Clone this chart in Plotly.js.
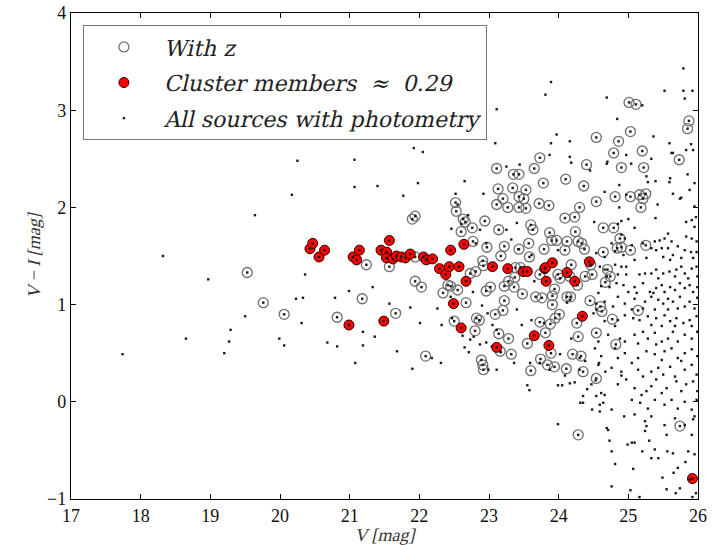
<!DOCTYPE html>
<html>
<head>
<meta charset="utf-8">
<script src="https://cdn.plot.ly/plotly-3.0.1.min.js"></script>
<style>html,body{margin:0;padding:0;background:#fff;}#chart{width:714px;height:545px;}</style>
</head>
<body>
<div id="chart"></div>
<script>
// ---- Cluster members (red) ----
const memberV = [20.43,20.47,20.56,20.64,20.99,21.05,21.10,21.14,21.45,21.49,
  21.53,21.53,21.57,21.62,21.67,21.74,21.80,21.87,22.06,22.10,
  22.19,22.29,22.38,22.43,22.45,22.49,22.57,22.60,22.64,22.67,
  23.05,23.11,23.27,23.49,23.55,23.65,23.80,23.81,23.82,23.86,
  23.91,24.12,24.23,24.34,24.44,25.92];
const memberVI = [1.575,1.63,1.49,1.56,0.79,1.49,1.46,1.56,1.56,0.83,
  1.54,1.48,1.66,1.47,1.50,1.49,1.48,1.52,1.49,1.46,
  1.47,1.37,1.31,1.39,1.56,1.01,1.39,0.76,1.62,1.24,
  1.39,0.56,1.37,1.34,1.34,0.68,1.37,1.38,1.24,0.58,
  1.43,1.33,1.24,0.88,1.44,-0.79];

// ---- Sources with redshift (open circles) ----
const withzV = [19.53,19.76,20.06,20.82,21.18,21.24,21.57,21.66,21.90,21.94,
  21.94,21.94,22.03,22.09,22.34,22.41,22.45,22.50,22.52,22.53,
  22.55,22.60,22.63,22.66,22.67,22.73,22.76,22.77,22.80,22.81,
  22.82,22.86,22.91,22.92,22.89,22.91,22.92,22.94,22.96,22.97,
  23.02,23.09,23.11,23.11,23.13,23.14,23.14,23.16,23.17,23.20,
  23.20,23.22,23.22,23.22,23.27,23.28,23.28,23.32,23.34,23.35,
  23.36,23.37,23.38,23.43,23.43,23.43,23.43,23.45,23.48,23.50,
  23.53,23.53,23.55,23.57,23.58,23.60,23.60,23.63,23.65,23.67,
  23.72,23.73,23.73,23.73,23.74,23.76,23.78,23.79,23.81,23.84,
  23.86,23.87,23.88,23.89,23.90,23.91,23.91,23.94,23.94,23.95,
  23.97,23.99,24.01,24.02,24.09,24.10,24.12,24.12,24.09,24.11,
  24.16,24.17,24.18,24.20,24.23,24.24,24.26,24.27,24.28,24.28,
  24.28,24.30,24.32,24.33,24.35,24.36,24.37,24.38,24.40,24.45,
  24.46,24.48,24.54,24.54,24.54,24.54,24.60,24.62,24.64,24.64,
  24.67,24.70,24.74,24.77,24.79,24.79,24.81,24.82,24.84,24.86,
  24.88,24.90,24.90,25.01,25.03,25.03,25.03,25.11,25.14,25.16,
  25.18,25.20,25.21,25.22,25.25,25.25,25.73,25.74,25.85,25.87];
const withzVI = [1.33,1.02,0.90,0.87,1.06,1.41,1.39,0.91,1.88,1.91,
  1.49,1.24,1.18,0.47,1.12,1.20,1.19,0.83,2.05,1.96,
  1.15,1.75,1.88,1.85,1.02,1.32,1.79,1.65,0.73,1.34,
  0.86,0.84,1.45,1.40,0.43,0.38,0.33,1.86,1.14,1.59,
  1.18,0.90,2.40,2.03,2.19,0.70,1.77,0.52,1.50,2.09,
  0.94,1.60,1.04,1.19,2.00,0.65,1.24,0.49,2.20,2.34,
  1.18,1.28,1.38,2.34,2.11,2.00,1.57,1.38,1.11,2.09,
  2.18,1.99,0.60,1.63,1.49,1.82,0.32,1.77,2.40,1.08,
  2.04,2.51,0.82,1.31,0.44,1.07,2.25,1.57,0.71,0.38,
  2.02,1.74,0.80,0.50,1.66,1.09,1.00,0.36,1.16,0.86,
  1.66,1.31,0.90,1.27,1.89,2.29,1.08,1.65,1.56,0.34,
  1.29,1.08,1.41,0.49,1.90,1.75,0.81,1.20,1.65,0.67,
  -0.34,2.00,0.47,1.63,0.31,2.22,1.57,1.29,2.44,1.04,
  1.41,1.31,2.72,2.06,0.71,0.24,0.98,0.93,1.54,1.79,
  1.23,1.36,1.29,0.85,2.56,1.79,2.11,0.59,1.58,2.68,
  1.68,2.41,1.59,3.08,2.78,2.11,1.56,3.06,0.94,2.13,
  2.00,2.58,2.09,2.41,2.14,1.61,2.49,-0.25,2.81,2.89];

// ---- Other sources with photometry (dots), bright / sparse part ----
const fieldV_sparse = [17.74,18.32,18.65,18.97,19.20,19.27,19.29,19.50,19.64,19.99,
  20.06,20.17,20.23,20.25,20.31,20.33,20.36,20.68,20.79,20.82,
  20.99,21.07,21.07,21.08,21.19,21.19,21.33,21.36,21.40,21.57,
  21.68,21.77,21.87,21.90,21.92,21.98,22.05,22.01,22.18,22.26,
  22.31,22.32,22.45,22.47,22.52,22.55,22.60,22.62,22.65,22.65,
  22.71,22.78,22.81,22.90,22.96,22.98,23.05,23.09,23.11,23.11,
  23.17,23.36,23.40,23.42,23.55,23.58,23.65,23.79,23.81,23.89,
  23.89,23.97,23.99,24.02,24.05,24.09,24.12,24.16,24.16,24.18,
  24.23,24.31,24.35,24.38,24.41,24.45,24.48,24.53,24.58,24.61,
  24.64,24.67,24.69,24.70,24.73,24.76,24.81,24.84,24.87,24.90,
  24.94,24.99,25.03,25.07,25.16,25.20,25.20,25.26,25.30,25.33,
  25.36,25.39,25.43,25.49,25.52,25.55,25.56,25.59,25.60,25.62,
  25.65,25.68,25.71,25.74,25.74,25.79,25.79,25.81,25.82,25.85,
  25.86,25.88,25.90,25.92,25.92,25.93,25.95,25.95,25.97,25.97];
const fieldVI_sparse = [0.49,1.50,0.65,1.26,0.50,0.62,0.74,0.88,1.92,0.65,
  0.58,2.13,1.06,2.48,0.81,1.07,1.31,0.61,1.07,0.57,
  1.14,2.49,2.21,0.40,0.72,0.58,1.18,0.67,2.22,1.01,
  0.52,2.12,0.97,0.34,2.61,2.25,2.57,0.81,0.45,0.96,
  0.40,0.79,1.08,0.86,2.14,2.03,1.83,0.68,0.56,2.27,
  0.51,0.67,1.63,0.99,0.61,0.91,0.79,2.66,3.01,0.33,
  0.51,0.40,1.84,1.57,0.17,0.12,1.24,0.81,3.16,3.29,
  2.66,2.75,-0.23,0.49,0.17,0.27,1.02,2.68,2.52,2.46,
  0.20,-0.01,0.06,0.42,0.13,2.38,-0.08,0.22,0.40,0.09,
  -0.01,0.31,3.13,2.47,-0.40,-0.87,-0.64,2.91,2.23,0.27,
  -0.15,-0.44,-0.91,-0.69,-0.98,3.05,-0.51,2.32,-0.40,2.50,
  2.73,2.27,-0.58,-0.78,3.20,-0.90,-0.51,2.66,2.30,2.56,
  -0.73,-0.94,-0.68,2.09,-0.89,3.43,3.20,3.12,-0.62,2.34,
  -0.51,-0.80,2.65,3.20,-0.98,2.59,2.25,-0.15,1.90,-0.94];

// ---- dots, middle part ----
const fieldV_mid = [23.44,23.25,23.87,24.69,24.97,25.04,25.64,25.83,22.92,24.66,
  24.97,25.28,25.59,25.64,25.88,22.46,22.70,22.87,23.25,23.32,
  22.96,23.61,23.99,22.77,22.73,22.87,23.04,22.99,23.11,23.40,
  23.47,23.61,23.59,23.73,23.87,23.99,24.16,24.18,24.16,24.30,
  24.35,24.30,24.47,24.54,24.59,24.69,24.50,24.54,24.61,24.69];
const fieldVI_mid = [2.44,2.42,2.54,2.45,2.54,2.45,2.56,2.59,2.14,2.16,
  2.13,2.26,2.26,2.14,2.18,1.78,1.92,1.77,1.77,1.67,
  1.63,1.51,1.56,1.13,0.64,0.59,0.57,0.33,0.74,0.95,
  0.79,0.84,0.40,0.40,0.33,0.17,0.19,0.65,1.05,0.45,
  -0.01,0.33,0.18,0.06,-0.10,-0.27,0.91,1.01,1.19,1.29];

// ---- dots, faint dense part ----
const fieldV_faint = [25.76,25.42,24.87,25.95,
  25.39,25.91,25.00,24.90,24.51,25.09,25.83,25.95,24.85,
  24.90,24.95,25.57,25.52,25.45,25.38,25.83,25.91,25.98,25.62,24.76,25.05,25.21,
  25.33,25.40,25.48,25.57,25.71,25.81,25.90,25.98,24.81,24.93,24.66,24.54,25.50,25.64,25.76,25.93,25.26,25.09,25.60,
  24.81,24.90,24.97,25.16,25.24,25.33,25.40,25.50,25.59,25.69,25.76,25.81,25.91,25.98,25.99,24.85,24.97,24.59,24.66,25.67,25.86,25.43,
  24.83,24.93,25.09,25.21,25.31,25.40,25.48,25.52,25.60,25.67,25.74,25.81,25.88,25.93,25.99,24.57,24.73,25.00,25.12,25.36,
  24.85,24.95,25.09,25.24,25.33,25.43,25.50,25.57,25.64,25.74,25.81,25.88,25.95,25.99,24.66,24.78,25.05,25.21,25.38,25.57,25.71,24.54,
  24.95,25.07,25.16,25.28,25.40,25.52,25.60,25.69,25.79,25.88,25.98,24.66,24.85,25.33,25.48,25.67,25.91,24.81,
  24.95,25.09,25.21,25.28,25.38,25.48,25.57,25.64,25.71,25.81,25.91,25.99,24.57,24.71,24.88,25.14,25.40,
  24.81,24.85,24.95,25.26,25.38,25.52,25.62,25.71,25.81,25.91,25.99,24.61,24.52,25.14,25.48,
  24.57,24.76,24.90,25.14,25.21,25.33,25.43,25.50,25.60,25.67,25.81,25.91,25.98,25.05,25.76,
  24.85,24.97,25.09,25.19,25.33,25.40,25.55,25.69,25.76,25.83,25.93,25.99,24.66,25.26,25.48,
  25.05,25.17,25.28,25.38,25.52,25.62,25.71,25.81,25.91,24.59,24.76,25.98,
  25.09,25.24,25.33,25.52,25.67,25.81,25.93,25.26,
  24.71,25.05,25.09,25.24,25.55,25.91,24.76,25.38,25.64,25.95,25.33];
const fieldVI_faint = [2.10,2.03,2.00,2.01,
  1.89,1.87,1.88,1.86,1.85,1.79,1.85,1.80,1.83,
  1.72,1.68,1.73,1.68,1.66,1.65,1.70,1.68,1.65,1.65,1.63,1.61,1.63,
  1.58,1.56,1.58,1.58,1.60,1.56,1.54,1.54,1.55,1.51,1.49,1.53,1.49,1.51,1.48,1.48,1.48,1.46,1.46,
  1.41,1.39,1.39,1.31,1.32,1.32,1.36,1.32,1.34,1.36,1.39,1.32,1.37,1.39,1.29,1.31,1.31,1.39,1.36,1.29,1.27,1.27,
  1.22,1.20,1.18,1.22,1.13,1.17,1.20,1.13,1.18,1.15,1.22,1.17,1.20,1.13,1.18,1.12,1.18,1.13,1.12,1.12,
  1.08,1.01,1.06,1.03,1.08,1.05,1.01,1.06,1.03,1.08,0.98,1.03,0.96,1.07,1.03,0.98,0.95,0.96,0.95,0.95,0.96,0.95,
  0.89,0.86,0.84,0.88,0.86,0.89,0.83,0.86,0.81,0.84,0.88,0.83,0.84,0.79,0.78,0.78,0.78,0.78,
  0.62,0.69,0.72,0.65,0.71,0.62,0.65,0.72,0.62,0.69,0.65,0.72,0.62,0.69,0.65,0.60,0.59,
  0.55,0.45,0.50,0.52,0.49,0.52,0.55,0.45,0.50,0.54,0.47,0.47,0.55,0.45,0.43,
  0.38,0.35,0.31,0.33,0.26,0.31,0.35,0.28,0.36,0.26,0.33,0.38,0.28,0.40,0.42,
  0.18,0.23,0.14,0.07,0.16,0.23,0.14,0.21,0.11,0.18,0.21,0.11,0.07,0.11,0.09,
  0.02,-0.01,-0.07,0.02,-0.03,0.02,-0.07,0.00,-0.08,-0.03,-0.08,0.02,
  -0.13,-0.20,-0.15,-0.24,-0.17,-0.24,-0.18,-0.25,
  -0.29,-0.42,-0.42,-0.30,-0.34,-0.34,-0.51,-0.49,-0.53,-0.54,-0.58];

// All sources with photometry = field dots + sources with z + members
const allV = fieldV_sparse.concat(fieldV_mid, fieldV_faint, withzV, memberV);
const allVI = fieldVI_sparse.concat(fieldVI_mid, fieldVI_faint, withzVI, memberVI);

const tickVals = [17,18,19,20,21,22,23,24,25,26];
const yTickVals = [-1,0,1,2,3,4];
const legendNames = ['With z', 'Cluster members  \u2248  0.29', 'All sources with photometry'];

const serif = '"Liberation Serif", serif';
const legendFont = '"DejaVu Serif", serif';

const traces = [
  {x: withzV, y: withzVI, type: 'scatter', mode: 'markers', name: legendNames[0], legendgroup: 'a',
   marker: {symbol: 'circle', size: 10, color: 'rgba(0,0,0,0)', line: {color: '#707070', width: 1.3}},
   cliponaxis: true, hoverinfo: 'skip'},
  {x: memberV, y: memberVI, type: 'scatter', mode: 'markers', name: legendNames[1], legendgroup: 'b',
   marker: {symbol: 'circle', size: 10, color: '#ff0000', line: {color: '#2a0000', width: 1}},
   cliponaxis: true, hoverinfo: 'skip'},
  {x: allV, y: allVI, type: 'scatter', mode: 'markers', name: legendNames[2], legendgroup: 'c',
   marker: {symbol: 'square', size: 2.4, color: '#1a1a1a', line: {width: 0}},
   cliponaxis: true, hoverinfo: 'skip'}
];

const axisCommon = {
  showgrid: false, zeroline: false, showline: true, linecolor: '#000', linewidth: 1.2,
  mirror: 'allticks', ticks: 'inside', ticklen: 5, tickwidth: 1, tickcolor: '#000',
  tickfont: {family: serif, size: 18, color: '#111'}
};

const layout = {
  width: 714, height: 545,
  margin: {l: 71, r: 16, t: 13, b: 46, pad: 0},
  paper_bgcolor: '#fff', plot_bgcolor: '#fff',
  showlegend: true,
  legend: {x: 0.019, y: 0.975, xanchor: 'left', yanchor: 'top',
           bgcolor: '#fff', bordercolor: '#777', borderwidth: 1,
           font: {family: legendFont, size: 22, color: '#222'},
           itemwidth: 70, tracegroupgap: 4, traceorder: 'grouped'},
  xaxis: Object.assign({}, axisCommon, {
    range: [17, 26], tickvals: tickVals, ticktext: tickVals.map(String),
    title: {text: 'V [mag]', font: {family: serif, size: 18, color: '#333'}, standoff: 4}
  }),
  yaxis: Object.assign({}, axisCommon, {
    range: [-1, 4], tickvals: yTickVals, ticktext: yTickVals.map(v => v < 0 ? '\u2212' + Math.abs(v) : String(v)),
    title: {text: 'V \u2212 I [mag]', font: {family: serif, size: 18, color: '#333'}, standoff: 5}
  })
};

// Slant serif text (no serif italic face is installed) to mimic math italic
function slant(el, deg, pre) {
  const k = Math.tan(deg * Math.PI / 180);
  const y = parseFloat(el.getAttribute('y') || '0');
  const prev = el.getAttribute('transform') || '';
  el.setAttribute('transform', ((pre || '') + ' ' + prev + ' translate(' + (k * y) + ',0) skewX(' + (-deg) + ')').trim());
}

Plotly.newPlot('chart', traces, layout, {displayModeBar: false, staticPlot: true}).then(gd => {
  gd.querySelectorAll('.legendtext, .xtitle').forEach(el => slant(el, 13));
  gd.querySelectorAll('.ytitle').forEach(el => slant(el, 13, 'translate(4,0)'));
});
</script>
</body>
</html>
